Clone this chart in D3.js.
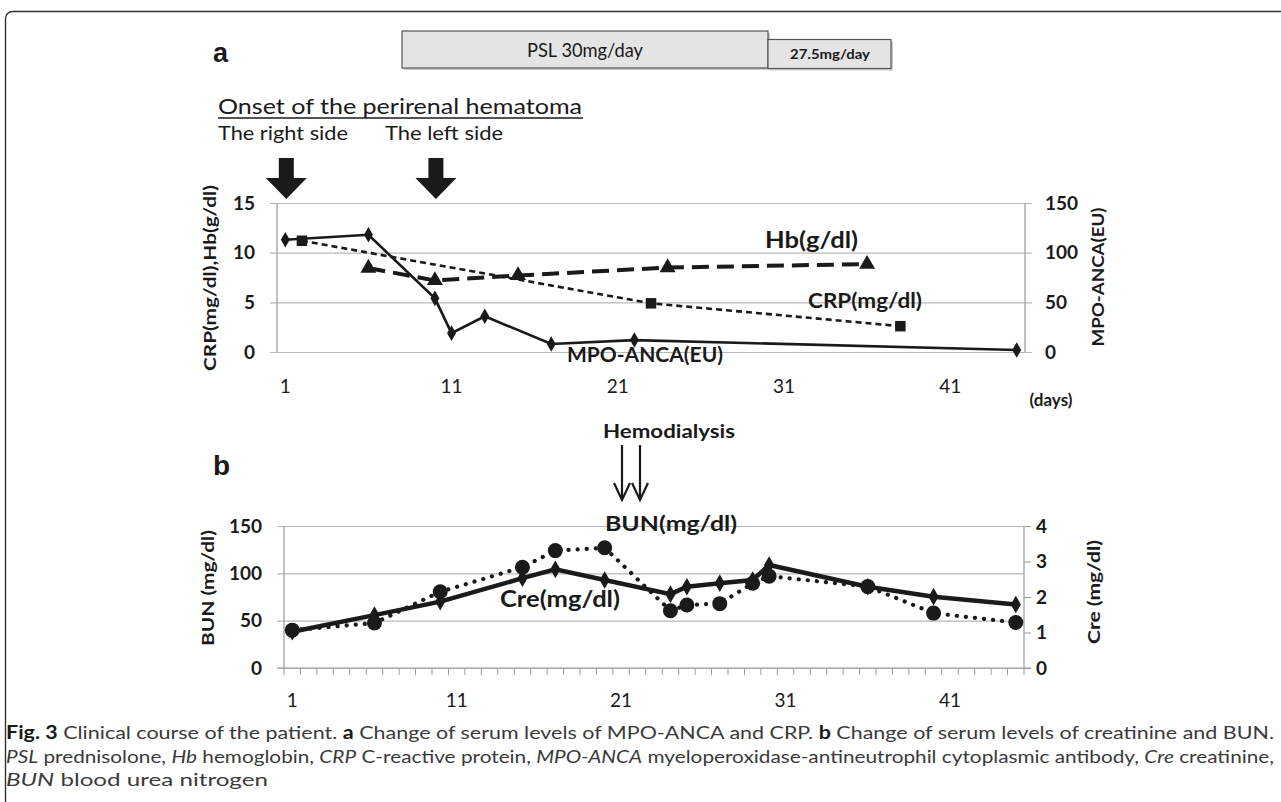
<!DOCTYPE html>
<html>
<head>
<meta charset="utf-8">
<script src="https://cdn.jsdelivr.net/npm/d3@7"></script>
<style>
  html, body { margin: 0; padding: 0; background: #ffffff; }
  svg { display: block; }
  text { font-family: Lato, "Open Sans", "DejaVu Sans", sans-serif; fill: #1a1a1a; }
</style>
</head>
<body>
<svg id="chart" width="1281" height="802"></svg>
<script>
// ---------------- DATA ----------------
const days = d3.range(1, 46);                 // category axis (days)
const dayTickLabels = [1, 11, 21, 31, 41];

// Panel a
const mpoDays   = [1, 6, 10, 11, 13, 17, 22, 45];
const mpoValues = [113, 118, 54, 19, 36, 8, 12, 2];          // MPO-ANCA (EU), right axis
const crpDays   = [2, 23, 38];
const crpValues = [11.2, 4.9, 2.6];                           // CRP (mg/dl), left axis
const hbDays    = [6, 10, 15, 24, 36];
const hbValues  = [8.45, 7.2, 7.7, 8.5, 8.85];                // Hb (g/dl), left axis
const aLeftTicks  = [0, 5, 10, 15];
const aRightTicks = [0, 50, 100, 150];

// Panel b
const renalDays = [1, 6, 10, 15, 17, 20, 24, 25, 27, 29, 30, 36, 40, 45];
const bunValues = [40, 47.5, 80.5, 106.5, 124, 127, 60.5, 66.5, 68, 89.5, 97, 86, 58, 48];
const creValues = [1.02, 1.49, 1.87, 2.53, 2.78, 2.48, 2.08, 2.29, 2.39, 2.48, 2.9, 2.29, 2.01, 1.79];
const bLeftTicks  = [0, 50, 100, 150];
const bRightTicks = [0, 1, 2, 3, 4];

const dialysisDays = ["first", "second"];

// ---------------- DRAW ----------------
const svg = d3.select("#chart");
const INK = "#1a1a1a";
const GRID = "#b8b8b8";
const AXIS = "#9a9a9a";

function fit(sel, w) {
  sel.attr("textLength", w).attr("lengthAdjust", "spacingAndGlyphs");
  return sel;
}

// frame
svg.append("rect")
  .attr("x", 5.5).attr("y", 11.5).attr("width", 1300).attr("height", 840)
  .attr("rx", 7).attr("fill", "none").attr("stroke", "#333").attr("stroke-width", 1.4);

// ===== Panel a header =====
svg.append("text").attr("x", 213).attr("y", 62)
  .style("font-family", "'Liberation Sans', Arial, sans-serif")
  .style("font-weight", "bold").style("font-size", "27px").text("a");

// PSL boxes
svg.append("rect").attr("x", 404).attr("y", 33).attr("width", 366).attr("height", 37)
  .attr("fill", "#9a9a9a").attr("opacity", 0.5);
svg.append("rect").attr("x", 402).attr("y", 31).attr("width", 366).attr("height", 37)
  .attr("fill", "#e4e4e4").attr("stroke", "#555").attr("stroke-width", 1.2);
svg.append("rect").attr("x", 770).attr("y", 41.5).attr("width", 123).attr("height", 29)
  .attr("fill", "#9a9a9a").attr("opacity", 0.5);
svg.append("rect").attr("x", 768).attr("y", 39.5).attr("width", 123).attr("height", 29)
  .attr("fill", "#e4e4e4").attr("stroke", "#555").attr("stroke-width", 1.2);
fit(svg.append("text").attr("x", 527).attr("y", 57).style("font-size", "20px")
  .text("PSL 30mg/day"), 116);
fit(svg.append("text").attr("x", 790).attr("y", 59).style("font-size", "13px")
  .style("font-weight", "bold").text("27.5mg/day"), 80);

// onset text
fit(svg.append("text").attr("x", 218).attr("y", 114).style("font-size", "22px")
  .text("Onset of the perirenal hematoma"), 364);
svg.append("line").attr("x1", 218).attr("x2", 583).attr("y1", 118).attr("y2", 118)
  .attr("stroke", INK).attr("stroke-width", 1.5);
fit(svg.append("text").attr("x", 218).attr("y", 140).style("font-size", "20px")
  .text("The right side"), 130);
fit(svg.append("text").attr("x", 385).attr("y", 140).style("font-size", "20px")
  .text("The left side"), 118);

// ===== Panel a chart =====
const xA = d3.scaleBand().domain(days).range([277, 1025]);
const cxA = d => xA(d) + xA.bandwidth() / 2;
const yA = d3.scaleLinear().domain([0, 15]).range([352, 203]);
const yA2 = d3.scaleLinear().domain([0, 150]).range([352, 203]);

// block arrows at hematoma onset (day 1 and day 10)
const onsetDays = [1, 10];
svg.selectAll(".blockArrow").data(onsetDays).enter().append("path")
  .attr("class", "blockArrow")
  .attr("d", d => {
    const c = cxA(d) + 1;
    return `M${c-7.5},158 L${c+7.5},158 L${c+7.5},178 L${c+20.5},178 L${c},199 L${c-20.5},178 L${c-7.5},178 Z`;
  })
  .attr("fill", INK);

// gridlines
svg.append("g").attr("transform", "translate(270,0)")
  .call(d3.axisRight(yA).tickValues(aLeftTicks).tickSize(1032 - 270).tickFormat(""))
  .call(g => g.select(".domain").remove())
  .call(g => g.selectAll("line").attr("stroke", GRID).attr("stroke-width", 1.2));

// vertical axis lines
svg.append("line").attr("x1", 277).attr("x2", 277).attr("y1", 203).attr("y2", 352).attr("stroke", AXIS).attr("stroke-width", 1.2);
svg.append("line").attr("x1", 1025).attr("x2", 1025).attr("y1", 203).attr("y2", 352).attr("stroke", AXIS).attr("stroke-width", 1.2);

// left tick labels
svg.append("g").attr("transform", "translate(277,0)")
  .call(d3.axisLeft(yA).tickValues(aLeftTicks).tickSize(0).tickPadding(22))
  .call(g => g.select(".domain").remove())
  .call(g => g.selectAll("text").style("font-size", "19px").style("font-weight", "bold")
    .style("font-family", "Lato, sans-serif").attr("fill", INK));
// right tick labels
svg.append("g").attr("transform", "translate(1025,0)")
  .call(d3.axisRight(yA2).tickValues(aRightTicks).tickSize(0).tickPadding(20))
  .call(g => g.select(".domain").remove())
  .call(g => g.selectAll("text").style("font-size", "19px").style("font-weight", "bold")
    .style("font-family", "Lato, sans-serif").attr("fill", INK));
// x labels
svg.append("g").attr("transform", "translate(0,352)")
  .call(d3.axisBottom(xA).tickValues(dayTickLabels).tickSize(0))
  .call(g => g.select(".domain").remove())
  .call(g => g.selectAll("text").attr("y", 41).attr("dy", null).style("font-size", "19px")
    .style("font-family", "Lato, sans-serif").attr("fill", INK));

svg.append("text").attr("x", 1051).attr("y", 406).attr("text-anchor", "middle")
  .style("font-size", "17px").style("font-weight", "bold").text("(days)");

// axis titles
fit(svg.append("text").attr("transform", "translate(210,278) rotate(-90)").attr("text-anchor", "middle")
  .attr("dy", "0.35em").style("font-size", "17px").style("font-weight", "bold")
  .text("CRP(mg/dl),Hb(g/dl)"), 186);
fit(svg.append("text").attr("transform", "translate(1098,277) rotate(-90)").attr("text-anchor", "middle")
  .attr("dy", "0.35em").style("font-size", "17px").style("font-weight", "bold")
  .text("MPO-ANCA(EU)"), 139);

// series lines
const lineA = (xs, ys, ysc) => d3.line().x((d, i) => cxA(xs[i])).y((d, i) => ysc(ys[i]))(ys);
svg.append("path").attr("d", lineA(crpDays, crpValues, yA)).attr("fill", "none")
  .attr("stroke", INK).attr("stroke-width", 2.6).attr("stroke-dasharray", "6,4");
svg.append("path").attr("d", lineA(hbDays, hbValues, yA)).attr("fill", "none")
  .attr("stroke", INK).attr("stroke-width", 4).attr("stroke-dasharray", "17,8");
svg.append("path").attr("d", lineA(mpoDays, mpoValues, yA2)).attr("fill", "none")
  .attr("stroke", INK).attr("stroke-width", 2.6);

// markers
svg.selectAll(".mpoPt").data(mpoValues).enter().append("path").attr("class", "mpoPt")
  .attr("transform", (d, i) => `translate(${cxA(mpoDays[i])},${yA2(d)})`)
  .attr("d", d3.symbol().type(d3.symbolDiamond).size(70)).attr("fill", INK);
svg.selectAll(".crpPt").data(crpValues).enter().append("path").attr("class", "crpPt")
  .attr("transform", (d, i) => `translate(${cxA(crpDays[i])},${yA(d)})`)
  .attr("d", d3.symbol().type(d3.symbolSquare).size(110)).attr("fill", INK);
svg.selectAll(".hbPt").data(hbValues).enter().append("path").attr("class", "hbPt")
  .attr("transform", (d, i) => `translate(${cxA(hbDays[i])},${yA(d)})`)
  .attr("d", d3.symbol().type(d3.symbolTriangle).size(110)).attr("fill", INK);

// series labels
fit(svg.append("text").attr("x", 765).attr("y", 248).style("font-size", "22px")
  .style("font-weight", "bold").text("Hb(g/dl)"), 93);
fit(svg.append("text").attr("x", 808).attr("y", 308).style("font-size", "20px")
  .style("font-weight", "bold").text("CRP(mg/dl)"), 114);
fit(svg.append("text").attr("x", 567).attr("y", 362).style("font-size", "20px")
  .style("font-weight", "bold").text("MPO-ANCA(EU)"), 156);

// ===== Panel b =====
svg.append("text").attr("x", 213).attr("y", 475)
  .style("font-family", "'Liberation Sans', Arial, sans-serif")
  .style("font-weight", "bold").style("font-size", "28px").text("b");

fit(svg.append("text").attr("x", 603).attr("y", 438).style("font-size", "18px")
  .style("font-weight", "bold").text("Hemodialysis"), 132);

const dialysisX = d3.scalePoint().domain(dialysisDays).range([622, 640]);
const arrows = svg.selectAll(".hd").data(dialysisDays).enter().append("g").attr("class", "hd");
arrows.append("line").attr("x1", d => dialysisX(d)).attr("x2", d => dialysisX(d))
  .attr("y1", 445).attr("y2", 499).attr("stroke", INK).attr("stroke-width", 2.2);
arrows.append("path").attr("d", d => { const x = dialysisX(d); return `M${x-8},483 L${x},500 L${x+8},483`; })
  .attr("fill", "none").attr("stroke", INK).attr("stroke-width", 2.2);

const xB = d3.scaleBand().domain(days).range([284, 1024]);
const cxB = d => xB(d) + xB.bandwidth() / 2;
const yB = d3.scaleLinear().domain([0, 150]).range([668, 526]);
const yB2 = d3.scaleLinear().domain([0, 4]).range([668, 526]);

// gridlines
svg.append("g").attr("transform", "translate(277,0)")
  .call(d3.axisRight(yB).tickValues(bLeftTicks).tickSize(1024 - 277).tickFormat(""))
  .call(g => g.select(".domain").remove())
  .call(g => g.selectAll("line").attr("stroke", GRID).attr("stroke-width", 1.2));
// axis lines
svg.append("line").attr("x1", 284).attr("x2", 284).attr("y1", 526).attr("y2", 668).attr("stroke", AXIS).attr("stroke-width", 1.2);
svg.append("line").attr("x1", 1024).attr("x2", 1024).attr("y1", 526).attr("y2", 668).attr("stroke", AXIS).attr("stroke-width", 1.2);
svg.append("line").attr("x1", 277).attr("x2", 1031).attr("y1", 668).attr("y2", 668).attr("stroke", AXIS).attr("stroke-width", 1.2);

// x tick marks at category boundaries
const bounds = days.map(d => xB(d)).concat([1024]);
svg.selectAll(".xtk").data(bounds).enter().append("line").attr("class", "xtk")
  .attr("x1", d => d).attr("x2", d => d).attr("y1", 668).attr("y2", 675)
  .attr("stroke", AXIS).attr("stroke-width", 1);

// left labels
svg.append("g").attr("transform", "translate(284,0)")
  .call(d3.axisLeft(yB).tickValues(bLeftTicks).tickSize(0).tickPadding(22))
  .call(g => g.select(".domain").remove())
  .call(g => g.selectAll("text").style("font-size", "19px").style("font-weight", "bold")
    .style("font-family", "Lato, sans-serif").attr("fill", INK));
// right axis with outward ticks
svg.append("g").attr("transform", "translate(1024,0)")
  .call(d3.axisRight(yB2).tickValues(bRightTicks).tickFormat(d3.format("d")).tickSize(7).tickPadding(5))
  .call(g => g.select(".domain").remove())
  .call(g => g.selectAll("line").attr("stroke", AXIS))
  .call(g => g.selectAll("text").style("font-size", "19px").style("font-weight", "bold")
    .style("font-family", "Lato, sans-serif").attr("fill", INK));
// x labels
svg.append("g").attr("transform", "translate(0,668)")
  .call(d3.axisBottom(xB).tickValues(dayTickLabels).tickSize(0))
  .call(g => g.select(".domain").remove())
  .call(g => g.selectAll("text").attr("y", 39).attr("dy", null).style("font-size", "19px")
    .style("font-family", "Lato, sans-serif").attr("fill", INK));

fit(svg.append("text").attr("transform", "translate(208,588) rotate(-90)").attr("text-anchor", "middle")
  .attr("dy", "0.35em").style("font-size", "17px").style("font-weight", "bold")
  .text("BUN (mg/dl)"), 116);
fit(svg.append("text").attr("transform", "translate(1094,592) rotate(-90)").attr("text-anchor", "middle")
  .attr("dy", "0.35em").style("font-size", "17px").style("font-weight", "bold")
  .text("Cre (mg/dl)"), 104);

// BUN dotted line + circles
svg.append("path")
  .attr("d", d3.line().x((d, i) => cxB(renalDays[i])).y(d => yB(d))(bunValues))
  .attr("fill", "none").attr("stroke", INK).attr("stroke-width", 4.2)
  .attr("stroke-linecap", "round").attr("stroke-dasharray", "0.1,9");
// Cre solid line + diamonds
svg.append("path")
  .attr("d", d3.line().x((d, i) => cxB(renalDays[i])).y(d => yB2(d))(creValues))
  .attr("fill", "none").attr("stroke", INK).attr("stroke-width", 4.5);
svg.selectAll(".crePt").data(creValues).enter().append("path").attr("class", "crePt")
  .attr("transform", (d, i) => `translate(${cxB(renalDays[i])},${yB2(d)})`)
  .attr("d", d3.symbol().type(d3.symbolDiamond).size(90)).attr("fill", INK);
svg.selectAll(".bunPt").data(bunValues).enter().append("circle").attr("class", "bunPt")
  .attr("cx", (d, i) => cxB(renalDays[i])).attr("cy", d => yB(d)).attr("r", 7.5).attr("fill", INK);

fit(svg.append("text").attr("x", 605).attr("y", 531).style("font-size", "21px")
  .style("font-weight", "bold").text("BUN(mg/dl)"), 132);
fit(svg.append("text").attr("x", 500).attr("y", 607).style("font-size", "22px")
  .style("font-weight", "bold").text("Cre(mg/dl)"), 120);

// ===== Caption =====
const capFont = "Lato, 'Open Sans', sans-serif";
function caption(y, parts, width) {
  const t = svg.append("text").attr("x", 6).attr("y", y)
    .style("font-family", capFont).style("font-size", "18px").attr("fill", "#333");
  parts.forEach(p => {
    const s = t.append("tspan").text(p[0]).attr("fill", p[1] === "b" ? "#1a1a1a" : "#3a3a3a");
    if (p[1] === "b") s.style("font-weight", "bold");
    if (p[1] === "i") s.style("font-style", "italic");
  });
  fit(t, width);
}
caption(739, [["Fig. 3", "b"], [" Clinical course of the patient. "], ["a", "b"],
  [" Change of serum levels of MPO-ANCA and CRP. "], ["b", "b"],
  [" Change of serum levels of creatinine and BUN."]], 1268);
caption(763, [["PSL", "i"], [" prednisolone, "], ["Hb", "i"], [" hemoglobin, "], ["CRP", "i"],
  [" C-reactive protein, "], ["MPO-ANCA", "i"], [" myeloperoxidase-antineutrophil cytoplasmic antibody, "],
  ["Cre", "i"], [" creatinine,"]], 1268);
caption(786, [["BUN", "i"], [" blood urea nitrogen"]], 262);
</script>
</body>
</html>
